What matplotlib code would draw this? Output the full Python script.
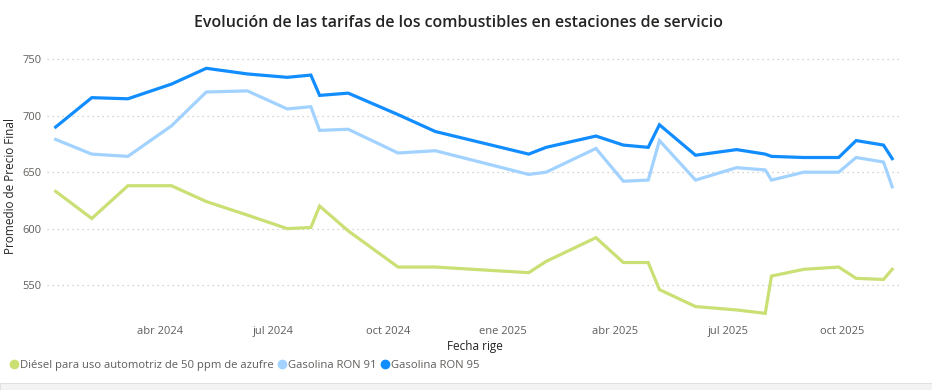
import numpy as np
import pandas as pd
import matplotlib
matplotlib.use("Agg")
from matplotlib import pyplot as plt
import matplotlib.dates as mdates
from matplotlib.lines import Line2D
from matplotlib.patches import Rectangle

plt.rcParams['font.family'] = ['Open Sans', 'DejaVu Sans']

# fechas de vigencia
fechas = pd.to_datetime([
    "2024-01-08", "2024-02-06", "2024-03-06", "2024-04-10", "2024-05-08",
    "2024-06-10", "2024-07-12", "2024-07-31", "2024-08-07", "2024-08-30",
    "2024-10-09", "2024-11-08", "2025-01-22", "2025-02-05", "2025-03-17",
    "2025-04-08", "2025-04-28", "2025-05-07", "2025-06-05", "2025-07-08",
    "2025-07-31", "2025-08-05", "2025-08-31", "2025-09-28", "2025-10-12",
    "2025-11-03", "2025-11-10",
])

diesel = [633, 609, 638, 638, 624, 612, 600, 601, 620, 598,
          566, 566, 561, 571, 592, 570, 570, 546, 531, 528,
          525, 558, 564, 566, 556, 555, 564]
ron91 = [679, 666, 664, 691, 721, 722, 706, 708, 687, 688,
         667, 669, 648, 650, 671, 642, 643, 678, 643, 654,
         652, 643, 650, 650, 663, 659, 637]
ron95 = [690, 716, 715, 728, 742, 737, 734, 736, 718, 720,
         701, 686, 666, 672, 682, 674, 672, 692, 665, 670,
         666, 664, 663, 663, 678, 674, 662]

series = [
    ("Diésel para uso automotriz de 50 ppm de azufre", diesel, "#CADF74"),
    ("Gasolina RON 91", ron91, "#A2D2FF"),
    ("Gasolina RON 95", ron95, "#118DFF"),
]

tick_fechas = pd.to_datetime(["2024-04-01", "2024-07-01", "2024-10-01",
                              "2025-01-01", "2025-04-01", "2025-07-01",
                              "2025-10-01"])
tick_labels = ["abr 2024", "jul 2024", "oct 2024", "ene 2025",
               "abr 2025", "jul 2025", "oct 2025"]

fig = plt.figure(figsize=(9.32, 3.9), dpi=100)
ax = fig.add_axes([0.0504, 0.185, 0.9176, 0.692])

for name, vals, color in series:
    ax.plot(fechas, vals, color=color, lw=2.3, solid_joinstyle='miter')

ax.set_ylim(521, 760)
ax.set_yticks([550, 600, 650, 700, 750])
ax.set_xlim(pd.Timestamp("2024-01-01"), pd.Timestamp("2025-11-18"))
ax.set_xticks(tick_fechas)
ax.set_xticklabels(tick_labels)

ax.grid(axis='y', color='#C8C6C4', linestyle=(0, (1, 3)), lw=0.9)
ax.set_axisbelow(True)
for s in ax.spines.values():
    s.set_visible(False)
ax.tick_params(length=0, labelsize=8, colors='#605E5C', pad=6)
ax.tick_params(axis='y', pad=4)

ax.set_ylabel("Promedio de Precio Final", fontsize=8.5, color='#252423')
ax.yaxis.set_label_coords(-0.035, 0.49)
ax.set_xlabel("Fecha rige", fontsize=8.5, color='#252423', labelpad=2)

fig.text(0.492, 0.94, "Evolución de las tarifas de los combustibles en estaciones de servicio",
         ha='center', va='center', fontsize=11.5, color='#252423', weight='semibold')

# leyenda
handles = [Line2D([], [], marker='o', linestyle='none', color=c, markersize=6)
           for _, _, c in series]
fig.legend(handles, [n for n, _, _ in series], loc='center left',
           bbox_to_anchor=(-0.002, 0.062), ncol=3, frameon=False, fontsize=8.1,
           handletextpad=0.0, columnspacing=0.3, labelcolor='#605E5C',
           handlelength=1.0)

# franja gris inferior
fig.patches.append(Rectangle((0, 0), 1, 0.018, transform=fig.transFigure,
                             facecolor='#F3F3F3', edgecolor='#E1E1E1', lw=0.8))

fig.savefig("out.png", dpi=100)
